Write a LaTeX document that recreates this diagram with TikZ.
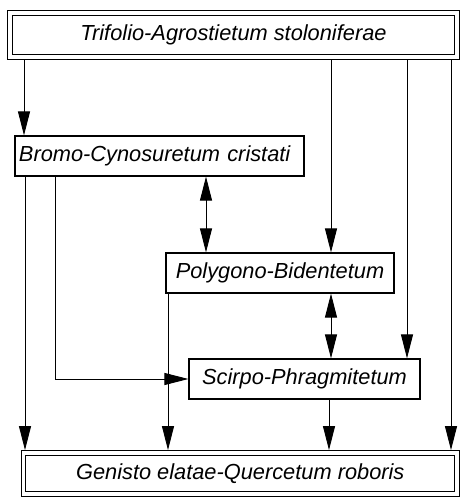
\documentclass[tikz,border=0pt]{standalone}
\usepackage{fontspec}
\setmainfont{Liberation Sans}
\usetikzlibrary{arrows.meta}
\begin{document}
\begin{tikzpicture}[x=1pt,y=1pt,
  box/.style={draw=black, line width=1.2pt, inner sep=0pt, minimum height=40pt,
    font=\fontsize{21.8}{26}\selectfont\itshape},
  dbox/.style={draw=black, line width=1.1pt, double=white, double distance=3.6pt,
    outer sep=2.9pt, inner sep=0pt, font=\fontsize{21.8}{26}\selectfont\itshape},
  conn/.style={line width=0.9pt, -{Triangle[length=24pt,width=12pt]}},
  dconn/.style={line width=0.9pt, {Triangle[length=24pt,width=12pt]}-{Triangle[length=24pt,width=12pt]}}
]
\useasboundingbox (0,0) rectangle (461,498);
\node[dbox, minimum width=447pt, minimum height=44pt] (top) at (233.5,462.75) {Trifolio-Agrostietum stoloniferae};
\node[box, inner xsep=4pt, text width=281pt, align=left] (bromo) at (159.5,342) {\mbox{Bromo-Cynosuretum cristati}};
\node[box, minimum width=228pt] (poly) at (280,225) {Polygono-Bidentetum};
\node[box, minimum width=231pt] (scirpo) at (304.5,119) {Scirpo-Phragmitetum};
\node[dbox, minimum width=433.5pt, minimum height=41pt] (gen) at (240.25,24.5) {Genisto elatae-Quercetum roboris};

\draw[conn] (top.south -| 24,0) -- (bromo.north -| 24,0);
\draw[conn] (top.south -| 331,0) -- (poly.north -| 331,0);
\draw[conn] (top.south -| 407,0) -- (scirpo.north -| 407,0);
\draw[conn] (top.south -| 451,0) -- (gen.north -| 451,0);
\draw[conn] (bromo.south -| 25,0) -- (gen.north -| 25,0);
\draw[conn] (bromo.south -| 55,0) |- (scirpo.west);
\draw[dconn] (bromo.south -| 206,0) -- (poly.north -| 206,0);
\draw[conn] (poly.south -| 168,0) -- (gen.north -| 168,0);
\draw[dconn] (poly.south -| 331,0) -- (scirpo.north -| 331,0);
\draw[conn] (scirpo.south -| 329,0) -- (gen.north -| 329,0);
\end{tikzpicture}
\end{document}
